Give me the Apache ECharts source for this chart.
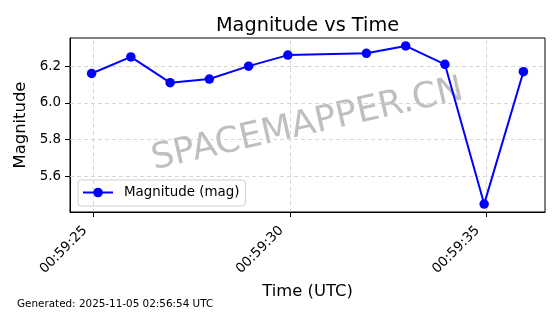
<!DOCTYPE html>
<html>
<head>
<meta charset="utf-8">
<script src="https://cdn.jsdelivr.net/npm/echarts@6/dist/echarts.min.js"></script>
<style>html,body{margin:0;padding:0;background:#fff}#c{width:560px;height:314px}</style>
</head>
<body>
<div id="c"></div>
<script>
const times = ['2025-11-05T00:59:24.950Z','2025-11-05T00:59:25.950Z','2025-11-05T00:59:26.950Z','2025-11-05T00:59:27.950Z','2025-11-05T00:59:28.950Z','2025-11-05T00:59:29.950Z','2025-11-05T00:59:31.950Z','2025-11-05T00:59:32.950Z','2025-11-05T00:59:33.950Z','2025-11-05T00:59:34.950Z','2025-11-05T00:59:35.950Z'];
const magnitudes = [6.16, 6.25, 6.11, 6.13, 6.20, 6.26, 6.27, 6.31, 6.21, 5.45, 6.17];
const xTicks = ['2025-11-05T00:59:25Z','2025-11-05T00:59:30Z','2025-11-05T00:59:35Z'];
const yTicks = [5.6, 5.8, 6.0, 6.2];
const seriesName = 'Magnitude (mag)';
const titleText = 'Magnitude vs Time';
const footer = 'Generated: 2025-11-05 02:56:54 UTC';

const tms = times.map(t => Date.parse(t));
const xtv = xTicks.map(t => Date.parse(t));
const xmin = Math.min(...tms), xmax = Math.max(...tms);
const ymin = Math.min(...magnitudes), ymax = Math.max(...magnitudes);
const xpad = (xmax - xmin) * 0.05, ypad = (ymax - ymin) * 0.05;
const pad2 = n => String(n).padStart(2, '0');
const fmt = v => { const d = new Date(v); return pad2(d.getUTCHours()) + ':' + pad2(d.getUTCMinutes()) + ':' + pad2(d.getUTCSeconds()); };
const F = 'DejaVu Sans';
const gridLine = {color: '#cccccc', type: [4, 3], width: 0.8};

const chart = echarts.init(document.getElementById('c'), null, {renderer: 'canvas'});
chart.setOption({
  animation: false,
  textStyle: {fontFamily: F},
  title: {text: titleText, left: 302.5, textAlign: 'center', top: 11, textStyle: {fontFamily: F, fontSize: 19.3, fontWeight: 'normal', color: '#000'}},
  grid: {left: 70, right: 15, top: 38, bottom: 102, show: true, borderColor: '#000', borderWidth: 1, backgroundColor: 'transparent'},
  legend: {
    data: [seriesName], left: 78, top: 180, orient: 'vertical',
    backgroundColor: 'rgba(255,255,255,0.8)', borderColor: '#d0d0d0', borderWidth: 1, borderRadius: 3,
    padding: [6, 6, 7, 4], itemWidth: 30, itemHeight: 12, itemGap: 4,
    textStyle: {fontFamily: F, fontSize: 13.4, color: '#000', padding: [0, 0, 0, 6]}
  },
  xAxis: {
    type: 'value', min: xmin - xpad, max: xmax + xpad,
    name: 'Time (UTC)', nameLocation: 'middle', nameGap: 70,
    nameTextStyle: {fontFamily: F, fontSize: 16.4, color: '#000'},
    axisLine: {show: true, lineStyle: {color: '#000', width: 1}},
    axisTick: {show: true, inside: false, length: 5, lineStyle: {color: '#000'}, customValues: xtv},
    axisLabel: {customValues: xtv, rotate: 45, formatter: v => fmt(v), fontFamily: F, fontSize: 13.5, color: '#000', margin: 8, padding: [0, 12, 0, 0]},
    splitLine: {show: false}
  },
  yAxis: {
    type: 'value', min: ymin - ypad, max: ymax + ypad,
    name: 'Magnitude', nameLocation: 'middle', nameGap: 32,
    nameTextStyle: {fontFamily: F, fontSize: 16.4, color: '#000'},
    axisLine: {show: true, lineStyle: {color: '#000', width: 1}},
    axisTick: {show: true, inside: false, length: 5, lineStyle: {color: '#000'}, customValues: yTicks},
    axisLabel: {customValues: yTicks, formatter: v => v.toFixed(1), fontFamily: F, fontSize: 13.4, color: '#000', margin: 9},
    splitLine: {show: false}
  },
  series: [
    {
      name: seriesName, type: 'line', data: tms.map((t, i) => [t, magnitudes[i]]),
      symbol: 'circle', symbolSize: 9.5, showAllSymbol: true,
      lineStyle: {color: '#0000ff', width: 2}, itemStyle: {color: '#0000ff'},
      z: 5
    },
    {
      type: 'line', data: [], silent: true, z: 1,
      markLine: {
        silent: true, symbol: 'none', label: {show: false},
        lineStyle: gridLine,
        data: yTicks.map(v => ({yAxis: v})).concat(xtv.map(v => ({xAxis: v})))
      }
    }
  ],
  graphic: [
    {type: 'text', x: 307.5, y: 125, rotation: 12.8 * Math.PI / 180, z: 0,
     style: {text: 'SPACEMAPPER.CN', font: '35.5px "DejaVu Sans"', fill: 'rgba(128,128,128,0.5)', textAlign: 'center', textVerticalAlign: 'middle'}},
    {type: 'text', left: 17, top: 299, style: {text: footer, font: '10.4px "DejaVu Sans"', fill: '#000'}}
  ]
});
</script>
</body>
</html>
